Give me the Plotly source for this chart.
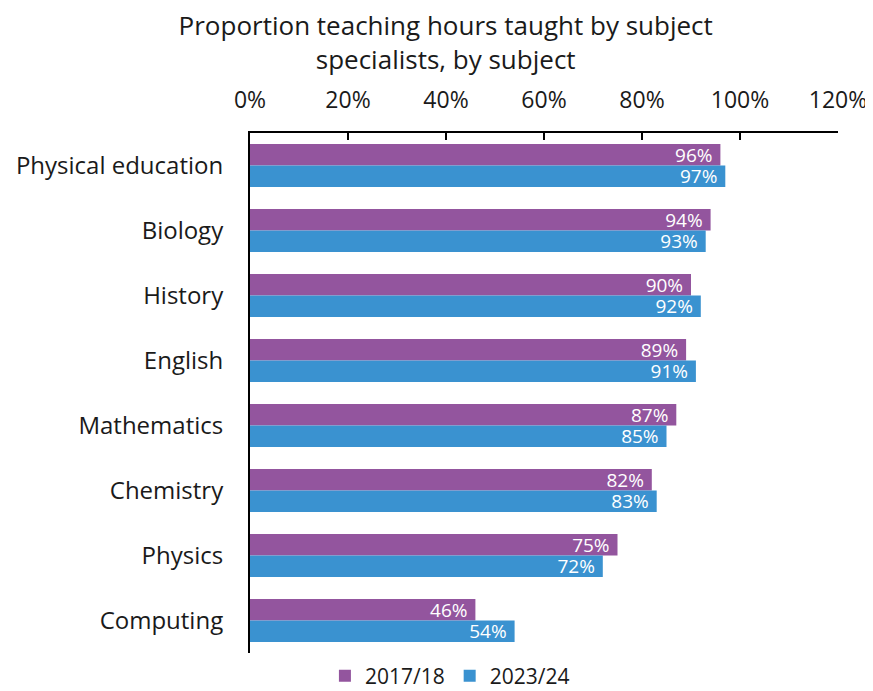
import plotly.graph_objects as go

subjects = ["Physical education", "Biology", "History", "English",
            "Mathematics", "Chemistry", "Physics", "Computing"]
share_2017 = [0.96, 0.94, 0.90, 0.89, 0.87, 0.82, 0.75, 0.46]
share_2023 = [0.97, 0.93, 0.92, 0.91, 0.85, 0.83, 0.72, 0.54]
series_names = ["2017/18", "2023/24"]
tick_vals = [0, 0.2, 0.4, 0.6, 0.8, 1.0, 1.2]
tick_text = ["0%", "20%", "40%", "60%", "80%", "100%", "120%"]

FONT = "Open Sans"
PURPLE = "#93559E"
BLUE = "#3A92D0"
TXT = "#1a1a1a"

fig = go.Figure()
for name, vals, col in [(series_names[0], share_2017, PURPLE),
                        (series_names[1], share_2023, BLUE)]:
    fig.add_trace(go.Bar(
        y=subjects, x=vals, name=name, orientation="h",
        marker=dict(color=col, line=dict(width=0)),
        texttemplate="%{x:.0%}\u00a0", textposition="inside",
        insidetextanchor="end", constraintext="none",
        textfont=dict(color="white", size=19, family=FONT),
        cliponaxis=False,
    ))

fig.update_layout(
    width=865, height=683,
    paper_bgcolor="white", plot_bgcolor="white",
    font=dict(family=FONT, color=TXT, size=22),
    title=dict(text="Proportion teaching hours taught by subject<br>specialists, by subject",
               x=0.506, xanchor="center", xref="container",
               y=1 - 27 / 683, yanchor="middle", yref="container",
               font=dict(size=26, family=FONT, color=TXT)),
    margin=dict(l=242, r=35, t=125, b=38, autoexpand=False),
    barmode="group", bargap=0.34, bargroupgap=0,
    showlegend=True,
    legend=dict(orientation="h", x=0.34, xanchor="center",
                y=1 - 668 / 683, yanchor="middle", yref="container",
                font=dict(size=21, family=FONT, color=TXT), traceorder="normal",
                itemwidth=30, itemsizing="constant"),
)
fig.update_xaxes(side="top", range=[0, 1.2], tickvals=tick_vals, ticktext=tick_text,
                 showgrid=False, zeroline=False, showline=True, linecolor="black",
                 linewidth=2, ticks="inside", ticklen=7, tickwidth=2, tickcolor="black",
                 tickfont=dict(size=23, color=TXT), ticklabelstandoff=14, fixedrange=True,
                 automargin=False)
fig.update_yaxes(autorange="reversed", showgrid=False, showline=True, linecolor="black",
                 linewidth=2, ticks="", ticklabelstandoff=20,
                 tickfont=dict(size=24, color=TXT), automargin=False)

fig.write_html("out.html")
